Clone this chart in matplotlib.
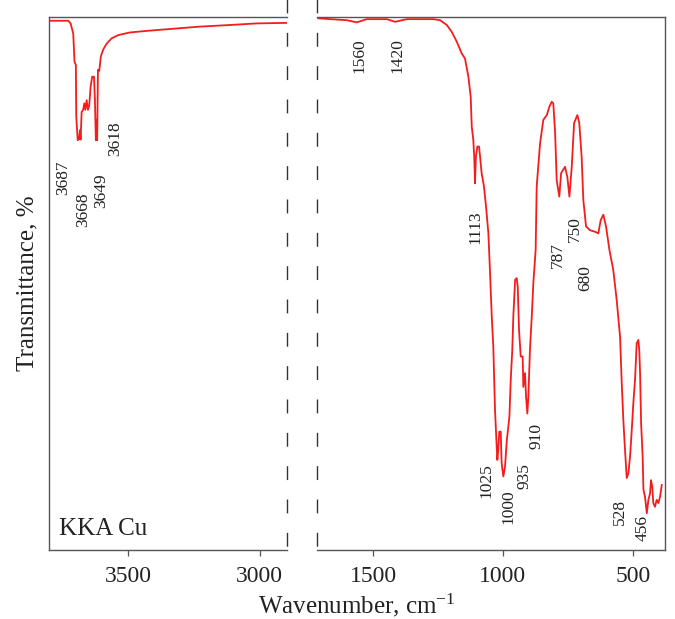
import matplotlib
matplotlib.use("Agg")
import matplotlib.pyplot as plt
from matplotlib.lines import Line2D

plt.rcParams['font.family'] = ['Liberation Serif', 'DejaVu Serif']
plt.rcParams['mathtext.fontset'] = 'custom'
plt.rcParams['mathtext.rm'] = 'Liberation Serif'
plt.rcParams['mathtext.it'] = 'Liberation Serif:italic'

# high wavenumber part (O-H region)
wn_high = [3797, 3728, 3719, 3709, 3704, 3699, 3697.5, 3692, 3687, 3683.5, 3681, 3677,
           3671, 3667, 3663, 3658, 3653, 3648, 3643, 3637, 3630, 3626.5, 3623, 3620,
           3618, 3615, 3610, 3604, 3595, 3582, 3563, 3538, 3494, 3430, 3329, 3228,
           3114, 3013, 2899]
tr_high = [99.3, 99.3, 98.8, 96.9, 91.6, 91.0, 81.3, 76.9, 77.1, 78.8, 77.0, 82.2,
           82.6, 83.8, 82.6, 84.4, 82.6, 83.5, 86.9, 88.8, 88.8, 84.4, 76.9, 80.7,
           76.9, 90.1, 89.9, 92.6, 93.9, 95.0, 96.0, 96.6, 97.1, 97.4, 97.8, 98.2,
           98.5, 98.8, 98.9]

# low wavenumber part
wn_low = [1711, 1601, 1563, 1524, 1447, 1415, 1370, 1268, 1242, 1216, 1197, 1178,
          1159, 1146, 1133, 1124, 1120, 1114, 1110, 1107.5, 1104, 1098.5, 1092, 1088,
          1082, 1073, 1065, 1056, 1050, 1043, 1037, 1030.5, 1024, 1021.5, 1018, 1014,
          1008.5, 1005, 998.5, 992, 985, 975, 970, 964, 960, 953, 947, 943, 938,
          931.5, 924, 921.5, 915, 911, 906, 902, 896, 889, 883, 874, 870, 857, 844.5,
          831, 821, 812, 806, 799, 793, 783, 776, 761, 752, 744, 735, 726, 713.5,
          706, 697, 690.5, 680, 665, 645, 632.7, 623.5, 613.5, 603, 590, 575, 562,
          549, 542.6, 536.4, 530, 523.3, 517, 510.6, 504, 498, 491.4, 485, 478.6,
          475, 472, 468, 462, 459, 453, 446, 440, 433.6, 430, 425, 421, 414.5, 408,
          401.5, 395, 388.5]
tr_low = [99.75, 99.4, 99.0, 99.6, 99.6, 99.1, 99.6, 99.6, 99.4, 98.5, 97.2, 95.4,
          93.2, 92.2, 88.8, 85.0, 79.4, 76.9, 73.2, 68.8, 73.8, 75.7, 75.7, 73.8,
          70.7, 68.2, 64.4, 59.4, 52.5, 43.8, 38.1, 26.3, 19.4, 16.9, 18.8, 22.2,
          22.2, 16.3, 13.8, 15.6, 20.6, 25.0, 31.9, 37.5, 43.8, 50.7, 51.0, 49.4, 41.3,
          36.3, 36.3, 30.6, 33.2, 28.8, 25.6, 28.8, 37.5, 43.8, 50.0, 56.3, 68.2, 76.3, 80.7,
          81.6, 83.2, 84.1, 83.8, 78.2, 69.4, 66.3, 70.7, 71.9, 70.0, 66.3, 71.9, 80.1, 81.6,
          80.1, 73.8, 65.7, 60.7, 60.0, 59.7, 59.4, 61.9, 62.9, 60.7, 56.3, 52.5, 46.9,
          40.0, 31.3, 24.4, 18.8, 13.5, 14.4, 17.5, 22.5, 27.5, 31.9, 38.8, 39.4,
          37.5, 33.2, 23.8, 17.5, 11.3, 10.0, 6.9, 9.4, 10.6, 13.1, 11.9, 8.8, 8.1, 9.4,
          8.8, 10.0, 12.2]

# peak labels: text, x, y
labels_high = [("3687", 3747, 69.9), ("3668", 3673, 63.8), ("3649", 3601, 67.5),
               ("3618", 3551, 77.1)]
labels_low = [("1560", 1554, 92.7), ("1420", 1407, 92.7), ("1113", 1107, 60.5),
              ("787", 790, 55.3), ("750", 722, 60.2), ("680", 684, 51.1),
              ("1025", 1062, 13.0), ("1000", 978, 8.1), ("935", 916, 13.8),
              ("910", 871, 21.4), ("528", 548, 7.2), ("456", 464, 4.1)]

frame_col = '#555555'
text_col = '#222222'

fig = plt.figure(figsize=(6.75, 6.19), dpi=100)
ax1 = fig.add_axes([49.3 / 675, 0.1115, 238 / 675, 0.861])
ax2 = fig.add_axes([316.7 / 675, 0.1115, 348.3 / 675, 0.861])

ax1.plot(wn_high, tr_high, color='#f41c1c', lw=1.3)
ax2.plot(wn_low, tr_low, color='#f41c1c', lw=1.3)

ax1.set_xlim(3800, 2895)
ax2.set_xlim(1717, 376)
for ax in (ax1, ax2):
    ax.set_ylim(0, 100)
    ax.set_yticks([])
    ax.tick_params(axis='x', direction='out', length=4.5, width=0.9, color=frame_col,
                   labelsize=17, labelcolor=text_col, pad=7)
    for s in ax.spines.values():
        s.set_color(frame_col)
        s.set_linewidth(1.0)
ax1.spines['right'].set_visible(False)
ax2.spines['left'].set_visible(False)
ax1.set_xticks([3500, 3000])
ax2.set_xticks([1500, 1000, 500])

for t, x, y in labels_high:
    ax1.text(x, y, t, rotation=90, ha='center', va='center', fontsize=12.5, color=text_col)
for t, x, y in labels_low:
    ax2.text(x, y, t, rotation=90, ha='center', va='center', fontsize=12.5, color=text_col)

ax1.text(0.041, 0.028, "KKA Cu", transform=ax1.transAxes, fontsize=18,
         color=text_col, va='baseline')

ax1.set_ylabel("Transmittance, %", fontsize=18, color=text_col, labelpad=8)
fig.text(357 / 675, 1 - 605 / 619, "Wavenumber, cm$^{-1}$", fontsize=18,
         color=text_col, ha='center', va='center')

# broken axis markers
for xb in (287.3 / 675, 316.7 / 675):
    fig.add_artist(Line2D([xb, xb], [1 + 2 / 619, 1 - 562 / 619], transform=fig.transFigure,
                          color='#333333', lw=1.0, linestyle=(0, (10, 14))))

fig.savefig("out.png", dpi=100)
